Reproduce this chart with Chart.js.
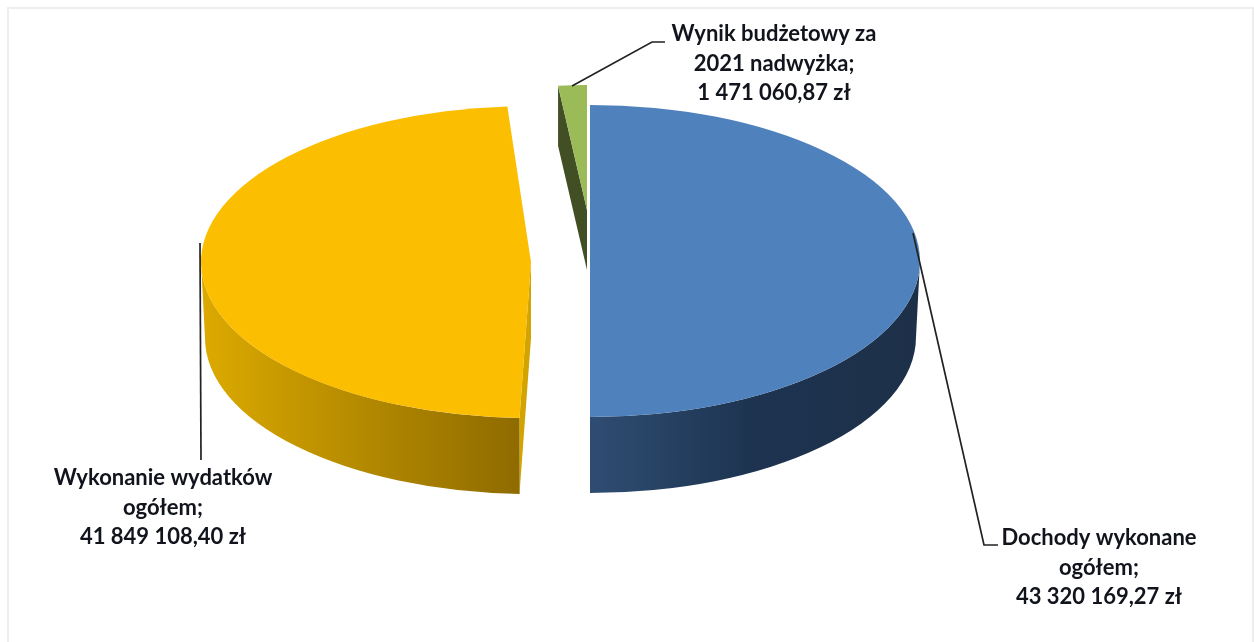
<!DOCTYPE html>
<html>
<head>
<meta charset="utf-8">
<script src="https://cdn.jsdelivr.net/npm/chart.js@4/dist/chart.umd.js"></script>
<style>
  html, body { margin: 0; padding: 0; background: #fff; }
  #wrap { position: relative; width: 1254px; height: 642px; overflow: hidden; background: #fff; }
  #frame { position: absolute; left: 7px; top: 7px; width: 1243px; height: 640px; border: 2px solid #eeeeee; }
  canvas { position: absolute; left: 0; top: 0; filter: blur(0.5px); }
</style>
</head>
<body>
<div id="wrap">
  <div id="frame"></div>
  <canvas id="pie" width="1254" height="642"></canvas>
</div>
<script>
// dane
const categories = ['Dochody wykonane ogółem', 'Wykonanie wydatków ogółem', 'Wynik budżetowy za 2021 nadwyżka'];
const values = [43320169.27, 41849108.40, 1471060.87];
const labelLines = [
  ['Dochody wykonane', 'ogółem;', '43 320 169,27 zł'],
  ['Wykonanie wydatków', 'ogółem;', '41 849 108,40 zł'],
  ['Wynik budżetowy za', '2021 nadwyżka;', '1 471 060,87 zł']
];
const colors = ['#4f81bd', '#fbbe00', '#9bbb59'];

// wyglad 3D - kazdy wycinek ma swoj srodek i elipse
const slices = [
  { cx: 590, cy: 261, rx: 330, ry: 156, rot: 0, depth: 76, inset: 4, face: '#2d4a6e', side: ['#2f4d72', '#1d3350', '#1d3048'] },
  { cx: 531, cy: 262, rx: 330, ry: 156, rot: 2.0, depth: 76, inset: 4, face: '#d3a300', side: ['#dcaa00', '#b48a00', '#8f6b00'] },
  { cx: 587, cy: 210, rx: 272, ry: 125, rot: 0, depth: 60, inset: 0, face: '#424f25', side: ['#424f25', '#424f25', '#424f25'] }
];
const labelPos = [
  { x: 1099, y: 538 },
  { x: 163, y: 478 },
  { x: 774, y: 34 }
];
const leaders = [
  [[913, 233], [984, 545], [998, 545]],
  [[200, 243], [201, 460]],
  [[572, 86], [652, 42], [665, 42]]
];

const pie3d = {
  id: 'pie3d',
  beforeDatasetDraw(chart, args) {
    const ctx = chart.ctx;
    const arcs = args.meta.data;
    // od tylu do przodu
    [2, 1, 0].forEach(i => {
      const arc = arcs[i];
      const s = slices[i];
      const rot = s.rot * Math.PI / 180;
      const a0 = arc.startAngle + rot;
      const a1 = arc.endAngle + rot;

      // sciana przekroju
      ctx.fillStyle = s.face;
      ctx.beginPath();
      ctx.moveTo(s.cx, s.cy);
      ctx.lineTo(s.cx + s.rx * Math.cos(a0), s.cy + s.ry * Math.sin(a0));
      ctx.lineTo(s.cx + s.rx * Math.cos(a0), s.cy + s.ry * Math.sin(a0) + s.depth);
      ctx.lineTo(s.cx, s.cy + s.depth);
      ctx.closePath();
      ctx.fill();

      // bok - tylko przednia polowa elipsy
      const t0 = Math.max(a0, 0);
      const t1 = Math.min(a1, Math.PI);
      if (t1 > t0) {
        const x0 = s.cx + s.rx * Math.cos(t1);
        const x1 = s.cx + s.rx * Math.cos(t0);
        const g = ctx.createLinearGradient(i === 0 ? x1 : x0, 0, i === 0 ? x0 : x1, 0);
        const stops = i === 0 ? s.side.slice().reverse() : s.side;
        g.addColorStop(0, stops[0]);
        g.addColorStop(0.5, stops[1]);
        g.addColorStop(1, stops[2]);
        ctx.fillStyle = g;
        ctx.beginPath();
        ctx.ellipse(s.cx, s.cy, s.rx, s.ry, 0, t0, t1);
        ctx.ellipse(s.cx, s.cy + s.depth, s.rx - s.inset, s.ry, 0, t1, t0, true);
        ctx.closePath();
        ctx.fill();
      }

      // gora rysuje sam Chart.js
      const R = arc.outerRadius;
      ctx.save();
      ctx.translate(s.cx, s.cy);
      ctx.scale(s.rx / R, s.ry / R);
      ctx.rotate(rot);
      ctx.translate(-arc.x, -arc.y);
      arc.draw(ctx);
      ctx.restore();
    });
    return false;
  },
  afterDatasetsDraw(chart) {
    const ctx = chart.ctx;
    ctx.save();
    ctx.strokeStyle = '#222222';
    ctx.lineWidth = 1.7;
    leaders.forEach(pts => {
      ctx.beginPath();
      pts.forEach((p, i) => i ? ctx.lineTo(p[0], p[1]) : ctx.moveTo(p[0], p[1]));
      ctx.stroke();
    });
    ctx.fillStyle = '#11141c';
    ctx.font = 'bold 22px Lato';
    ctx.textAlign = 'center';
    ctx.textBaseline = 'middle';
    labelLines.forEach((lines, i) => {
      lines.forEach((t, j) => ctx.fillText(t, labelPos[i].x, labelPos[i].y + j * 29.6));
    });
    ctx.restore();
  }
};

new Chart(document.getElementById('pie'), {
  type: 'pie',
  data: {
    labels: categories,
    datasets: [{ data: values, backgroundColor: colors, borderWidth: 0 }]
  },
  options: {
    responsive: false,
    animation: false,
    plugins: { legend: { display: false }, tooltip: { enabled: false } }
  },
  plugins: [pie3d]
});
</script>
</body>
</html>
